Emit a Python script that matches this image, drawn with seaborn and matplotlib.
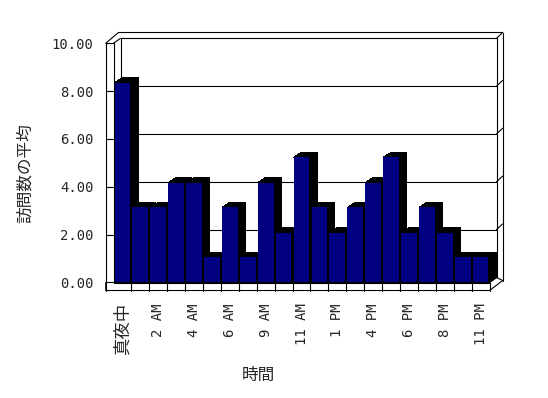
import matplotlib
matplotlib.use("Agg")
import matplotlib.pyplot as plt
from matplotlib.patches import Polygon
from matplotlib.lines import Line2D
from matplotlib.transforms import Affine2D
import seaborn as sns
import pandas as pd

# ---- data ----
categories = ['真夜中', '1 AM', '2 AM', '3 AM', '4 AM', '5 AM', '6 AM', '8 AM', '9 AM',
              '10 AM', '11 AM', '12 PM', '1 PM', '3 PM', '4 PM', '5 PM', '6 PM', '7 PM',
              '8 PM', '10 PM', '11 PM']
values = [8.36, 3.14, 3.14, 4.18, 4.18, 1.05, 3.14, 1.05, 4.18, 2.09, 5.23,
          3.14, 2.09, 3.14, 4.18, 5.23, 2.09, 3.14, 2.09, 1.05, 1.05]
y_ticks = [0, 2, 4, 6, 8, 10]
y_tick_labels = ['0.00', '2.00', '4.00', '6.00', '8.00', '10.00']
x_label = '時間'
y_label = '訪問数の平均'

sns.set_style('white')
plt.rcParams['font.family'] = ['DejaVu Sans Mono', 'Noto Sans CJK JP']

W, H = 548, 398
fig = plt.figure(figsize=(W / 100, H / 100), dpi=100)

# front plane of the 3-D box (figure pixels, y from top)
AX_L, AX_R, AX_B, AX_T = 113.5, 489.5, 282.5, 43.3
ax = fig.add_axes([AX_L / W, (H - AX_B) / H, (AX_R - AX_L) / W, (AX_B - AX_T) / H])
ax.set_zorder(2)

df = pd.DataFrame({'cat': categories, 'val': values})
navy = '#000080'
sns.barplot(data=df, x='cat', y='val', color=navy, saturation=1, width=0.88,
            ax=ax, linewidth=0, edgecolor='none')
ax.set_xlim(-0.5, len(categories) - 0.5)
ax.set_ylim(0, 10)
for s in ax.spines.values():
    s.set_visible(False)
ax.set_facecolor('none')

# pixel -> figure transform (y measured from top)
pix = Affine2D().scale(1 / W, -1 / H).translate(0, 1) + fig.transFigure
px_per_x = (AX_R - AX_L) / len(categories)
px_per_y = (AX_B - AX_T) / 10.0

def ypx(v):
    return AX_B - v * px_per_y

LW = 0.8
def line(xs, ys, z=1):
    fig.add_artist(Line2D(xs, ys, color='black', lw=LW, transform=pix, zorder=z))

def poly(pts, fc='white', z=1):
    fig.add_artist(Polygon(pts, closed=True, facecolor=fc, edgecolor='black',
                           lw=LW, transform=pix, zorder=z))

# ---- walls (behind the bars) ----
DX, DY = 7.0, -5.0          # depth offset of the back wall (px)
BX0, BX1 = AX_L + DX, AX_R + DX
BT = AX_T + DY
BB = AX_B + DY
for v in y_ticks[1:-1]:
    yy = ypx(v) + DY
    line([BX0, BX1], [yy, yy], z=0.5)
    line([BX1, BX1 + 6.2], [yy, yy - 5.8], z=0.5)
line([BX0, BX0], [BT, BB], z=0.5)
line([BX0, BX1], [BT, BT], z=0.5)
line([BX1, BX1], [BT, BB], z=0.5)
line([BX1, BX1 + 6.2], [BT, BT - 5.8], z=0.5)
line([BX1 + 6.2, BX1 + 6.2], [BT - 5.8, BB + 3], z=0.5)
line([AX_L - 7.8 + 6.8, AX_L - 7.8 + 12.8, BX1 + 6.2], [AX_T - 5.8, BT - 5.8, BT - 5.8], z=0.5)

# ---- left wall and floor (in front) ----
line([AX_L - 7.8, AX_L - 7.8 + 6.8], [AX_T, AX_T - 5.8], z=5)
line([AX_L, BX0], [AX_T, BT], z=5)
line([AX_L - 7.8, AX_L - 7.8], [AX_T, AX_B + 8], z=5)
line([AX_L - 7.8, AX_L], [AX_T, AX_T], z=5)
line([AX_L, AX_L], [AX_T, AX_B], z=5)
for v in y_ticks[1:-1]:
    line([AX_L - 7.8, AX_L], [ypx(v), ypx(v)], z=5)
poly([(AX_L, AX_B), (AX_R, AX_B), (AX_R + DX, BB), (BX1 + 6.2, BB + 3),
      (AX_R, AX_B + 8), (AX_L - 7.8, AX_B + 8), (AX_L - 7.8, AX_B)], fc='white', z=50)
line([AX_L - 7.8, AX_L - 7.8], [AX_B, AX_B + 8], z=51)
line([AX_L, AX_R], [AX_B, AX_B], z=51)
line([AX_R, AX_R], [AX_B, AX_B + 8], z=51)
line([AX_R, AX_R + DX], [AX_B, BB], z=51)
for k in range(1, len(categories)):
    xx = AX_L + k * px_per_x
    line([xx, xx], [AX_B, AX_B + 8], z=51)

# ---- 3-D extrusion of every bar (black top and side) ----
bdx = 7.7 * (len(categories) / (AX_R - AX_L))
bdy = 5.0 * (10.0 / (AX_B - AX_T))
for i, p in enumerate(ax.patches):
    x0, w, h = p.get_x(), p.get_width(), p.get_height()
    x1 = x0 + w
    p.set_zorder(3 + 2 * i + 1)
    p.set_edgecolor('none')
    p.set_linewidth(0)
    p.set_antialiased(False)
    ext = Polygon([(x1, 0), (x1 + bdx, bdy), (x1 + bdx, h + bdy), (x0 + bdx, h + bdy),
                   (x0, h), (x1, h)], closed=True, facecolor='black', edgecolor='none',
                  zorder=3 + 2 * i, clip_on=False, antialiased=False)
    ax.add_patch(ext)

# ---- ticks and labels ----
ax.set_yticks(y_ticks)
ax.set_yticklabels(y_tick_labels)
ax.tick_params(axis='y', length=0, pad=14.5, labelsize=10)
ax.set_xticks(range(0, len(categories), 2))
ax.set_xticklabels(categories[::2], rotation=90)
ax.tick_params(axis='x', length=0, pad=14.8, labelsize=10)
for t in ax.get_xticklabels():
    if t.get_text() == '真夜中':
        t.set_fontsize(12.5)

ax.set_xlabel(x_label, fontsize=12, family=['Noto Sans CJK JP', 'DejaVu Sans'])
ax.set_ylabel(y_label, fontsize=12, family=['Noto Sans CJK JP', 'DejaVu Sans'])
ax.xaxis.set_label_coords((258 - AX_L) / (AX_R - AX_L), (AX_B - 375.5) / (AX_B - AX_T))
ax.yaxis.set_label_coords((25 - AX_L) / (AX_R - AX_L), (AX_B - 173) / (AX_B - AX_T))
ax.xaxis.label.set_verticalalignment('center')
ax.yaxis.label.set_verticalalignment('center')

fig.savefig('out.png', dpi=100)
